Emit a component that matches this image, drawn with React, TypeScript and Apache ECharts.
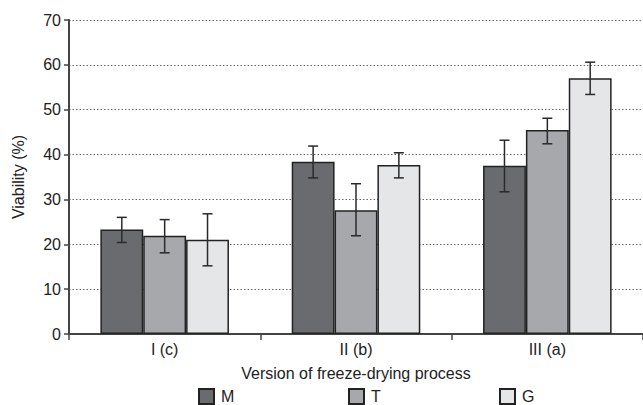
import React, { useEffect, useRef } from "react";
import * as echarts from "echarts";

const categories = ["I (c)", "II (b)", "III (a)"];
const seriesNames = ["M", "T", "G"];
const valuesM = [23.3, 38.4, 37.5];
const valuesT = [21.9, 27.6, 45.5];
const valuesG = [21.0, 37.7, 57.0];
const errLowM = [20.4, 34.8, 31.7];
const errHighM = [26.0, 41.9, 43.2];
const errLowT = [18.1, 21.9, 42.4];
const errHighT = [25.5, 33.5, 48.1];
const errLowG = [15.2, 34.8, 53.4];
const errHighG = [26.8, 40.4, 60.6];
const colors = ["#6a6b6f", "#a7a8ab", "#e5e6e7"];

const BAR_FRAC = 0.224;

function errorSeries(lows: number[], highs: number[], offset: number) {
  return {
    type: "custom",
    z: 5,
    silent: true,
    data: lows.map((l, i) => [i, l, highs[i]]),
    renderItem: (params: any, api: any) => {
      const c = api.value(0);
      const lo = api.coord([c, api.value(1)]);
      const hi = api.coord([c, api.value(2)]);
      const bw = api.size([1, 0])[0];
      const x = lo[0] + offset * bw * BAR_FRAC;
      const cap = 5;
      const style = { stroke: "#2a2a2a", lineWidth: 1.5 };
      return {
        type: "group",
        children: [
          { type: "line", shape: { x1: x, y1: lo[1], x2: x, y2: hi[1] }, style },
          { type: "line", shape: { x1: x - cap, y1: lo[1], x2: x + cap, y2: lo[1] }, style },
          { type: "line", shape: { x1: x - cap, y1: hi[1], x2: x + cap, y2: hi[1] }, style },
        ],
      };
    },
  };
}

export default function App() {
  const ref = useRef<HTMLDivElement>(null);
  useEffect(() => {
    const chart = echarts.init(ref.current!, null, { renderer: "svg" });
    const font = "'Liberation Sans', Arial, sans-serif";
    const vals = [valuesM, valuesT, valuesG];
    const legendLefts = [198, 348, 499];
    const txt = "#222";
    chart.setOption({
      animation: false,
      textStyle: { fontFamily: font },
      grid: { left: 69, top: 20, bottom: 71, right: -9, containLabel: false },
      legend: seriesNames.map((n, i) => ({
        data: [n],
        left: legendLefts[i],
        top: 388,
        padding: 0,
        icon: "rect",
        itemWidth: 15,
        itemHeight: 15,
        itemGap: 5,
        textStyle: { fontSize: 16, color: txt, fontFamily: font, padding: [0, 0, 0, 2] },
      })),
      xAxis: {
        type: "category",
        data: categories,
        name: "Version of freeze-drying process",
        nameLocation: "middle",
        nameGap: 31,
        nameTextStyle: { fontSize: 16, color: txt, fontFamily: font },
        axisLine: { lineStyle: { color: "#444", width: 2 } },
        axisTick: { show: true, length: 6, lineStyle: { color: "#444", width: 1.5 } },
        axisLabel: { fontSize: 16, color: txt, margin: 7, fontFamily: font },
      },
      yAxis: {
        type: "value",
        min: 0,
        max: 70,
        interval: 10,
        name: "Viability (%)",
        nameLocation: "middle",
        nameGap: 43,
        nameTextStyle: { fontSize: 16, color: txt, fontFamily: font },
        axisLine: { show: true, lineStyle: { color: "#444", width: 2 } },
        axisTick: { show: true, length: 5, lineStyle: { color: "#444", width: 1.5 } },
        axisLabel: { fontSize: 16, color: txt, margin: 8, fontFamily: font },
        splitLine: { show: true, lineStyle: { color: "#666", type: [1.5, 2], width: 1 } },
      },
      series: [
        ...seriesNames.map((n, i) => ({
          name: n,
          type: "bar",
          data: vals[i],
          barWidth: BAR_FRAC * 100 + "%",
          barGap: "0%",
          itemStyle: { color: colors[i], borderColor: "#222", borderWidth: 1.5 },
        })),
        errorSeries(errLowM, errHighM, -1),
        errorSeries(errLowT, errHighT, 0),
        errorSeries(errLowG, errHighG, 1),
      ],
    });
    return () => chart.dispose();
  }, []);
  return <div ref={ref} style={{ width: 643, height: 405, position: "absolute", left: 0, top: 0 }} />;
}
